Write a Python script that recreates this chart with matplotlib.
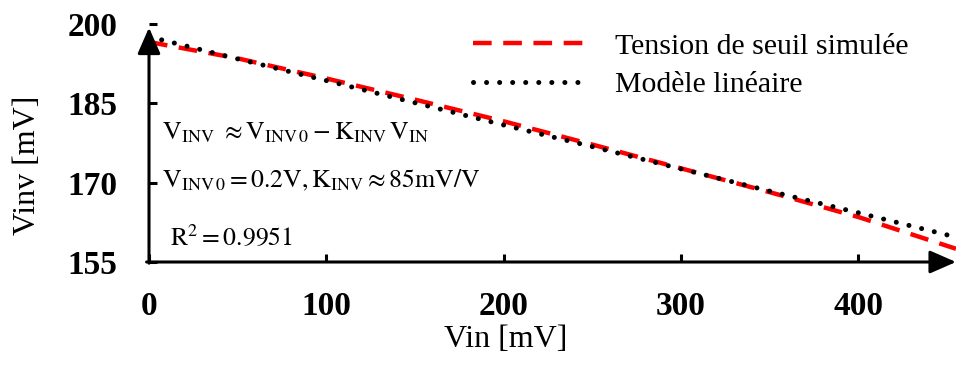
import numpy as np
import matplotlib
matplotlib.use("Agg")
import matplotlib.pyplot as plt

# valeurs
vin = [0, 50, 100, 150, 200, 250, 300, 350, 400, 455]
vinv_sim = [196.6, 193.5, 189.7, 185.7, 181.6, 177.2, 172.7, 168.2, 163.5, 157.5]
vinv_lin = [197.6, 193.4, 189.3, 185.1, 180.9, 176.8, 172.6, 168.4, 164.3, 159.7]

xticks = [0, 100, 200, 300, 400]
yticks = [155, 170, 185, 200]

plt.rcParams['font.family'] = ['Liberation Serif', 'DejaVu Serif']
plt.rcParams['mathtext.fontset'] = 'stix'

fig = plt.figure(figsize=(9.6, 3.69), dpi=100)
ax = fig.add_axes([149 / 960, 1 - 262 / 369, (956 - 149) / 960, (262 - 24) / 369])

ax.plot(vin, vinv_sim, color='red', lw=3.2, linestyle=(0, (4.2, 2.6)),
        dash_capstyle='butt', label='Tension de seuil simulée')
ax.plot(vin, vinv_lin, color='black', lw=3.6, linestyle=(0, (0.01, 2.6)),
        dash_capstyle='round', label='Modèle linéaire')

ax.set_xlim(0, 455)
ax.set_ylim(155, 200)
ax.set_xticks(xticks)
ax.set_yticks(yticks)
ax.tick_params(direction='in', length=6, width=2.2, labelsize=24)
ax.tick_params(axis='x', pad=21)
ax.tick_params(axis='y', pad=23)
for lab in ax.get_xticklabels() + ax.get_yticklabels():
    lab.set_fontweight('bold')

for s in ax.spines.values():
    s.set_visible(False)

# axes avec fleches
arrow = dict(arrowstyle='-|>,head_width=0.35,head_length=0.8', lw=2.2,
             color='black', shrinkA=0, shrinkB=0, mutation_scale=20)
ax.annotate('', xy=(1, 0), xytext=(-0.003, 0), xycoords='axes fraction', arrowprops=arrow)
ax.annotate('', xy=(0, 0.985), xytext=(0, -0.005), xycoords='axes fraction', arrowprops=arrow)

ax.set_xlabel('Vin [mV]', fontsize=23)
ax.xaxis.set_label_coords(0.442, -0.265)
ax.set_ylabel('Vinv [mV]', fontsize=23)
ax.yaxis.set_label_coords(-0.133, 0.408)

ax.text(0.016, 0.542, r'$\mathrm{V_{INV}}\ \approx \mathrm{V_{INV\,0}} - \mathrm{K_{INV}\,V_{IN}}$',
        transform=ax.transAxes, fontsize=18.5, va='center')
ax.text(0.016, 0.345, r'$\mathrm{V_{INV\,0}} = 0.2\mathrm{V}, \mathrm{K_{INV}} \approx 85\mathrm{mV/V}$',
        transform=ax.transAxes, fontsize=18.5, va='center')
ax.text(0.026, 0.105, r'$\mathrm{R^2} = 0.9951$',
        transform=ax.transAxes, fontsize=18.5, va='center')

ax.legend(loc='upper left', bbox_to_anchor=(0.401, 0.962), frameon=False,
          fontsize=21.5, handlelength=3.7, handletextpad=1.07, borderpad=0,
          borderaxespad=0, labelspacing=0.38)

fig.savefig('out.png', dpi=100)
